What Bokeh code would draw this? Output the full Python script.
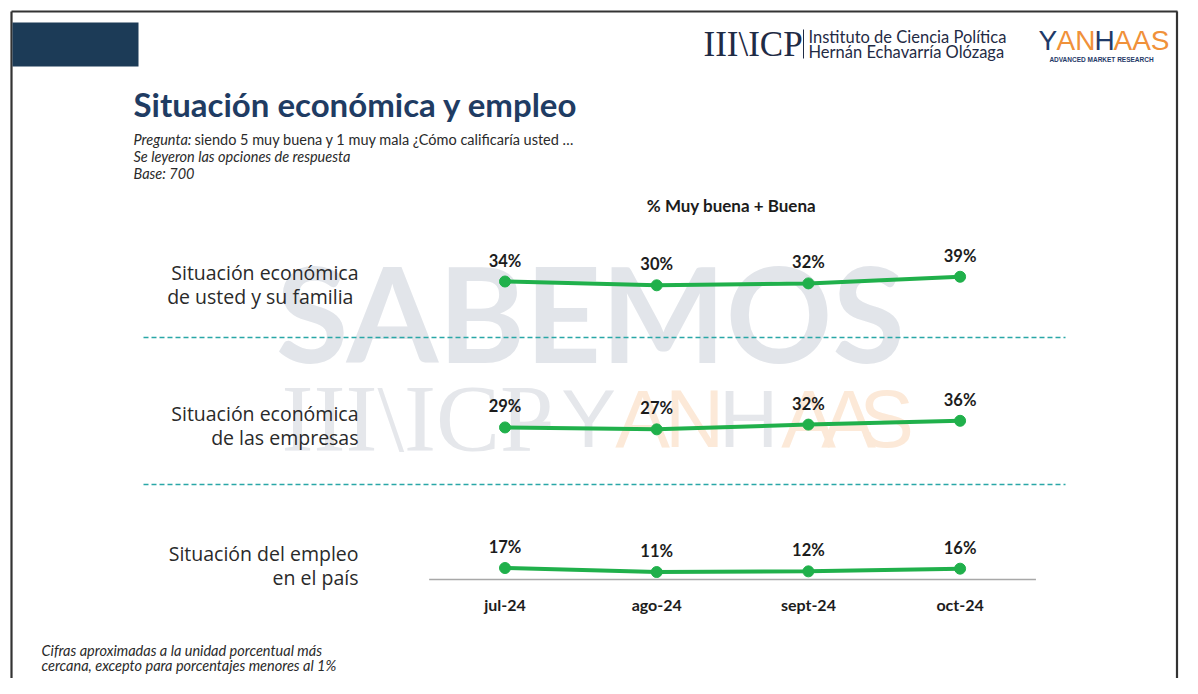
from bokeh.plotting import figure
from bokeh.models import Range1d
from bokeh.core.properties import value
from bokeh.embed import file_html
from bokeh.resources import INLINE

# ---------------- data ----------------
months = ["jul-24", "ago-24", "sept-24", "oct-24"]
familia = [34, 30, 32, 39]
empresas = [29, 27, 32, 36]
empleo = [17, 11, 12, 16]
series = [familia, empresas, empleo]
row_titles = [
    ["Situación económica", "de usted  y su familia"],
    ["Situación económica", "de las empresas"],
    ["Situación del empleo", "en el país"],
]
measure_label = "% Muy buena  + Buena"
title = "Situación económica y empleo"
note_lines = ["Cifras aproximadas a la unidad porcentual más",
              "cercana, excepto para porcentajes menores al 1%"]

# ---------------- layout ----------------
W, H = 1182, 678
M0, MSTEP = 504.5, 151.7            # x of first month, spacing (px)
ROWS = [(313.3, 0.95), (454.5, 0.95), (578.9, 0.67)]   # y of 0 %, px per point
LABEL_Y = [(272, 296), (413, 437), (553, 577)]

GREEN = "#20b04b"
TEAL = "#2aa7a7"
NAVY = "#1f3c63"
DARK = "#1c1c1c"
GREY_TXT = "#2a2a2a"

p = figure(width=W, height=H, x_range=Range1d(0, W), y_range=Range1d(H, 0),
           output_backend="svg", toolbar_location=None, min_border=0,
           x_axis_type=None, y_axis_type=None, outline_line_color=None,
           background_fill_color="white", border_fill_color="white")
p.xgrid.visible = False
p.ygrid.visible = False

p.extra_x_ranges = {"m": Range1d(-M0 / MSTEP, (W - M0) / MSTEP)}
for i, (zero, k) in enumerate(ROWS):
    s = -(H - zero) / k
    p.extra_y_ranges[f"r{i}"] = Range1d(s, s + H / k)

F_LATO = value("Lato")
F_OPEN = value("Open Sans")
F_SERIF = value("Liberation Serif")
F_SANS = value("Liberation Sans")

# ---------------- watermark ----------------
p.text(x=[590], y=[311], text=["SABEMOS"], text_align="center", text_baseline="middle",
       text_font=F_LATO, text_font_style="bold", text_font_size="132px", text_color="#e2e5ea")
p.text(x=[281], y=[418], text=["III\\ICP"], text_align="left", text_baseline="middle",
       text_font=F_SERIF, text_font_size="96px", text_color="#e5e7eb")
wm = [("-", 540, "#e5e7eb"), ("Y", 588, "#e5e7eb"), ("A", 642, "#fce9d8"), ("N", 694, "#fce9d8"),
      ("H", 748, "#e5e7eb"), ("A", 808, "#fce9d8"), ("A", 848, "#fce9d8"), ("S", 886, "#fce9d8")]
p.text(x=[w[1] for w in wm], y=[418] * len(wm), text=[w[0] for w in wm], text_align="center",
       text_baseline="middle", text_font=F_SANS, text_font_size="82px",
       text_color=[w[2] for w in wm])

# ---------------- frame & header ----------------
p.segment(x0=[11, 11, 1176.5], y0=[11, 11, 11], x1=[11, 1177, 1176.5], y1=[700, 11, 700],
          line_color="#333333", line_width=2.2)
p.quad(left=[12], right=[138], top=[22], bottom=[66], fill_color="#1c3b57", line_color=None)

p.text(x=[703], y=[44], text=["III\\ICP"], text_align="left", text_baseline="middle",
       text_font=F_SERIF, text_font_size="35px", text_color="#1f2b45")
p.segment(x0=[803], y0=[29], x1=[803], y1=[58], line_color="#1f2b45", line_width=1)
p.text(x=[808, 808], y=[36, 51], text=["Instituto de Ciencia Política", "Hernán Echavarría Olózaga"],
       text_align="left", text_baseline="middle", text_font=F_LATO, text_font_size="16.5px",
       text_color="#1f2b45")
yh = [("Y", 1038, "#1f3a68"), ("AN", 1056, "#f0913a"), ("H", 1094, "#1f3a68"), ("AAS", 1113, "#f0913a")]
p.text(x=[t[1] for t in yh], y=[40] * 4, text=[t[0] for t in yh], text_align="left",
       text_baseline="middle", text_font=F_SANS, text_font_size="28px",
       text_color=[t[2] for t in yh])
p.text(x=[1101], y=[59], text=["ADVANCED MARKET RESEARCH"], text_align="center", text_baseline="middle",
       text_font=F_SANS, text_font_style="bold", text_font_size="6.5px", text_color="#1f3a68")

# ---------------- titles ----------------
p.text(x=[133], y=[103], text=[title], text_align="left", text_baseline="middle",
       text_font=F_LATO, text_font_style="bold", text_font_size="33px", text_color=NAVY)
p.text(x=[133], y=[139], text=["Pregunta:"], text_align="left", text_baseline="middle",
       text_font=F_LATO, text_font_style="italic", text_font_size="14.5px", text_color=GREY_TXT)
p.text(x=[194], y=[139], text=["siendo 5 muy buena y 1 muy mala ¿Cómo calificaría usted …"],
       text_align="left", text_baseline="middle", text_font=F_LATO, text_font_size="14.5px",
       text_color=GREY_TXT)
p.text(x=[133], y=[156], text=["Se leyeron las opciones de respuesta"], text_align="left",
       text_baseline="middle", text_font=F_LATO, text_font_style="italic", text_font_size="14.5px",
       text_color=GREY_TXT)
p.text(x=[133], y=[173], text=["Base: 700"], text_align="left", text_baseline="middle",
       text_font=F_LATO, text_font_style="italic", text_font_size="14.5px", text_color=GREY_TXT)
p.text(x=[733], y=[205], text=[measure_label], text_align="center", text_baseline="middle",
       text_font=F_LATO, text_font_style="bold", text_font_size="17px", text_color=DARK)

# ---------------- separators & axis ----------------
p.segment(x0=[143, 143], y0=[337, 484], x1=[1065, 1065], y1=[337, 484],
          line_color=TEAL, line_width=1.6, line_dash="5 3")
idx = list(range(len(months)))
p.segment(x0=[-0.5], x1=[len(months) - 0.5], y0=[579], y1=[579], x_range_name="m",
          line_color="#a8a8a8", line_width=1.3)
p.text(x=idx, y=[604] * len(months), text=months, x_range_name="m", text_align="center",
       text_baseline="middle", text_font=F_LATO, text_font_style="bold", text_font_size="16px",
       text_color=DARK)

# ---------------- rows ----------------
for i, vals in enumerate(series):
    rn = f"r{i}"
    p.line(x=idx, y=vals, x_range_name="m", y_range_name=rn, line_color=GREEN, line_width=4)
    p.scatter(x=idx, y=vals, x_range_name="m", y_range_name=rn, size=11,
              fill_color=GREEN, line_color=GREEN)
    p.text(x=idx, y=vals, text=[f"{v}%" for v in vals], x_range_name="m", y_range_name=rn,
           text_align="center", text_baseline="middle", y_offset=-21,
           text_font=F_LATO, text_font_style="bold", text_font_size="16.5px", text_color=DARK)
    p.text(x=[358, 358], y=list(LABEL_Y[i]), text=row_titles[i], text_align="right",
           text_baseline="middle", text_font=F_OPEN, text_font_size="19.5px", text_color=GREY_TXT)

# ---------------- footnote ----------------
p.text(x=[41, 41], y=[650, 665], text=note_lines, text_align="left", text_baseline="middle",
       text_font=F_LATO, text_font_style="italic", text_font_size="14.5px", text_color=GREY_TXT)

open("out.html", "w").write(file_html(p, INLINE))
